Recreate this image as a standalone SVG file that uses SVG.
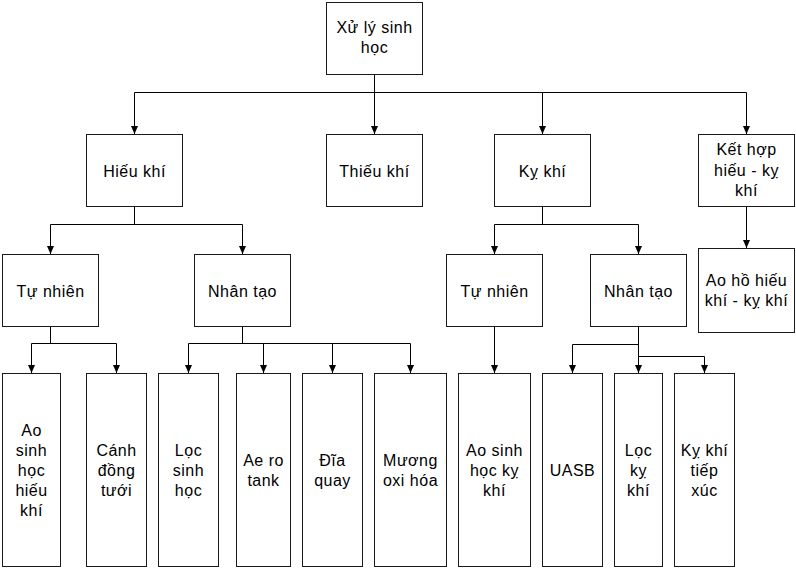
<svg xmlns="http://www.w3.org/2000/svg" width="796" height="568" viewBox="0 0 796 568">
<style>
.box{fill:#fff;stroke:#1a1a1a;stroke-width:1}
.t{font-family:"Liberation Sans",Arial,sans-serif;font-size:16px;letter-spacing:0.5px;fill:#000;text-anchor:middle}
.c{fill:none;stroke:#000;stroke-width:1}
.a{marker-end:url(#arr)}
</style>
<defs>
<marker id="arr" markerUnits="userSpaceOnUse" markerWidth="8" markerHeight="8" refX="8" refY="3.5" orient="auto">
<path d="M0,0 L8,3.5 L0,7 z" fill="#000"/>
</marker>
</defs>
<rect width="796" height="568" fill="#fff"/>
<g id="connectors">
<path class="c" d="M374.5 74.5 V92.5 M134.5 92.5 H746.5"/>
<path class="c a" d="M134.5 92.5 V134"/>
<path class="c a" d="M374.5 92.5 V134"/>
<path class="c a" d="M542.5 92.5 V134"/>
<path class="c a" d="M746.5 92.5 V134"/>
<path class="c" d="M134.5 206.5 V224.5 M50.5 224.5 H242.5"/>
<path class="c a" d="M50.5 224.5 V254"/>
<path class="c a" d="M242.5 224.5 V254"/>
<path class="c" d="M542.5 206.5 V224.5 M494.5 224.5 H638.5"/>
<path class="c a" d="M494.5 224.5 V254"/>
<path class="c a" d="M638.5 224.5 V254"/>
<path class="c a" d="M746.5 206.5 V248"/>
<path class="c" d="M50.5 326.5 V343.5 M31.5 343.5 H116.5"/>
<path class="c a" d="M31.5 343.5 V373"/>
<path class="c a" d="M116.5 343.5 V373"/>
<path class="c" d="M242.5 326.5 V343.5 M188.5 343.5 H410.5"/>
<path class="c a" d="M188.5 343.5 V373"/>
<path class="c a" d="M263.5 343.5 V373"/>
<path class="c a" d="M332.5 343.5 V373"/>
<path class="c a" d="M410.5 343.5 V373"/>
<path class="c a" d="M494.5 326.5 V373"/>
<path class="c a" d="M638.5 326.5 V373"/>
<path class="c" d="M572.5 344.5 H638.5 M638.5 356.5 H704.5"/>
<path class="c a" d="M572.5 344.5 V373"/>
<path class="c a" d="M704.5 356.5 V373"/>
</g>
<g id="root"><rect class="box" x="326.5" y="2.5" width="96" height="72"/><text class="t" x="374.5" y="33">Xử lý sinh</text><text class="t" x="374.5" y="53">học</text></g>
<g id="hieukhi"><rect class="box" x="86.5" y="134.5" width="96" height="72"/><text class="t" x="134.5" y="177">Hiếu khí</text></g>
<g id="thieukhi"><rect class="box" x="326.5" y="134.5" width="96" height="72"/><text class="t" x="374.5" y="177">Thiếu khí</text></g>
<g id="kykhi"><rect class="box" x="494.5" y="134.5" width="96" height="72"/><text class="t" x="542.5" y="177">Kỵ khí</text></g>
<g id="kethop"><rect class="box" x="698.5" y="134.5" width="96" height="72"/><text class="t" x="746.5" y="155">Kết hợp</text><text class="t" x="746.5" y="175.5">hiếu - kỵ</text><text class="t" x="746.5" y="196">khí</text></g>
<g id="tunhien1"><rect class="box" x="2.5" y="254.5" width="96" height="72"/><text class="t" x="50.5" y="297">Tự nhiên</text></g>
<g id="nhantao1"><rect class="box" x="194.5" y="254.5" width="96" height="72"/><text class="t" x="242.5" y="297">Nhân tạo</text></g>
<g id="tunhien2"><rect class="box" x="446.5" y="254.5" width="96" height="72"/><text class="t" x="494.5" y="297">Tự nhiên</text></g>
<g id="nhantao2"><rect class="box" x="590.5" y="254.5" width="96" height="72"/><text class="t" x="638.5" y="297">Nhân tạo</text></g>
<g id="aoho"><rect class="box" x="698.5" y="248.5" width="96" height="84"/><text class="t" x="746.5" y="285.5">Ao hồ hiếu</text><text class="t" x="746.5" y="305.5">khí - kỵ khí</text></g>
<g id="aosinhhochieukhi"><rect class="box" x="2.5" y="373.5" width="58" height="193"/><text class="t" x="31.5" y="435.5">Ao</text><text class="t" x="31.5" y="455.5">sinh</text><text class="t" x="31.5" y="475.5">học</text><text class="t" x="31.5" y="495.5">hiếu</text><text class="t" x="31.5" y="515.5">khí</text></g>
<g id="canhdongtuoi"><rect class="box" x="86.5" y="373.5" width="60" height="193"/><text class="t" x="116.5" y="455.5">Cánh</text><text class="t" x="116.5" y="475.5">đồng</text><text class="t" x="116.5" y="495.5">tưới</text></g>
<g id="locsinhhoc"><rect class="box" x="158.5" y="373.5" width="60" height="193"/><text class="t" x="188.5" y="455.5">Lọc</text><text class="t" x="188.5" y="475.5">sinh</text><text class="t" x="188.5" y="495.5">học</text></g>
<g id="aerotank"><rect class="box" x="236.5" y="373.5" width="54" height="193"/><text class="t" x="263.5" y="465.5">Ae ro</text><text class="t" x="263.5" y="485.5">tank</text></g>
<g id="diaquay"><rect class="box" x="302.5" y="373.5" width="60" height="193"/><text class="t" x="332.5" y="465.5">Đĩa</text><text class="t" x="332.5" y="485.5">quay</text></g>
<g id="muongoxihoa"><rect class="box" x="374.5" y="373.5" width="72" height="193"/><text class="t" x="410.5" y="465.5">Mương</text><text class="t" x="410.5" y="485.5">oxi hóa</text></g>
<g id="aosinhhockykhi"><rect class="box" x="458.5" y="373.5" width="72" height="193"/><text class="t" x="494.5" y="455.5">Ao sinh</text><text class="t" x="494.5" y="475.5">học kỵ</text><text class="t" x="494.5" y="495.5">khí</text></g>
<g id="uasb"><rect class="box" x="542.5" y="373.5" width="60" height="193"/><text class="t" x="572.5" y="475.5">UASB</text></g>
<g id="lockykhi"><rect class="box" x="614.5" y="373.5" width="48" height="193"/><text class="t" x="638.5" y="455.5">Lọc</text><text class="t" x="638.5" y="475.5">kỵ</text><text class="t" x="638.5" y="495.5">khí</text></g>
<g id="kykhitiepxuc"><rect class="box" x="674.5" y="373.5" width="60" height="193"/><text class="t" x="704.5" y="455.5">Kỵ khí</text><text class="t" x="704.5" y="475.5">tiếp</text><text class="t" x="704.5" y="495.5">xúc</text></g>
</svg>
